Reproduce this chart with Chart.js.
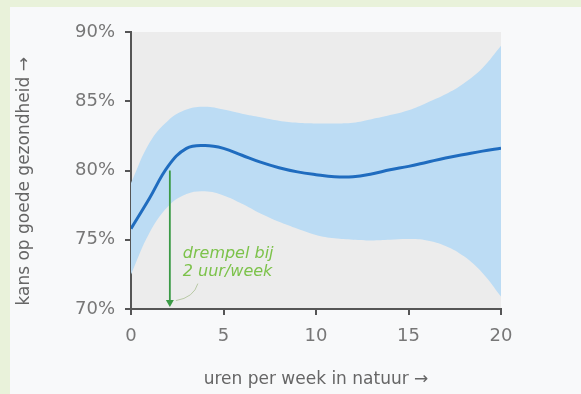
<!DOCTYPE html>
<html>
<head>
<meta charset="utf-8">
<script src="https://cdn.jsdelivr.net/npm/chart.js@4"></script>
<style>
  html, body { margin: 0; padding: 0; }
  body { width: 581px; height: 394px; background: #e9f2da; position: relative; overflow: hidden; }
  #panel { position: absolute; left: 10px; top: 7px; width: 571px; height: 387px; background: #f8f9fa; }
  #myChart { position: absolute; left: 0; top: 0; }
</style>
</head>
<body>
<div id="panel"><canvas id="myChart" width="571" height="387"></canvas></div>
<script>
// hours per week in nature
const hours = [0, 1, 2, 3, 4, 5, 6, 7, 8, 9, 10, 11, 12, 13, 14, 15, 16, 17, 18, 19, 20];
// chance of good health (%)
const estimate = [75.8, 78.0, 80.3, 81.6, 81.8, 81.6, 81.1, 80.6, 80.2, 79.9, 79.7, 79.55, 79.55, 79.75, 80.05, 80.3, 80.6, 80.9, 81.15, 81.4, 81.6];
const upper = [79.1, 82.0, 83.6, 84.4, 84.6, 84.4, 84.1, 83.85, 83.6, 83.45, 83.4, 83.4, 83.45, 83.7, 84.0, 84.35, 84.9, 85.5, 86.3, 87.4, 89.0];
const lower = [72.5, 75.5, 77.4, 78.3, 78.5, 78.2, 77.6, 76.9, 76.3, 75.8, 75.35, 75.1, 75.0, 74.95, 75.0, 75.05, 74.95, 74.55, 73.8, 72.6, 70.9];
const xTicks = [0, 5, 10, 15, 20];
const yTicks = [70, 75, 80, 85, 90];
// threshold arrow
const thresholdHours = 2.1;
const thresholdFrom = 80;
const thresholdTo = 70;
const thresholdText = ['drempel bij', '2 uur/week'];

const pts = (ys) => hours.map((h, i) => ({x: h, y: ys[i]}));

const plotBg = {
    id: 'plotBg',
    beforeDraw(chart) {
        const {ctx, chartArea: a} = chart;
        ctx.save();
        ctx.fillStyle = '#ececec';
        ctx.fillRect(a.left, a.top, a.right - a.left, a.bottom - a.top);
        ctx.restore();
    }
};

const threshold = {
    id: 'threshold',
    afterDatasetsDraw(chart) {
        const {ctx, scales: {x, y}} = chart;
        const px = x.getPixelForValue(thresholdHours);
        const top = y.getPixelForValue(thresholdFrom);
        const bot = y.getPixelForValue(thresholdTo) - 2;
        ctx.save();
        ctx.strokeStyle = '#3a9a45';
        ctx.fillStyle = '#3a9a45';
        ctx.lineWidth = 1.8;
        ctx.beginPath();
        ctx.moveTo(px, top);
        ctx.lineTo(px, bot - 5);
        ctx.stroke();
        ctx.beginPath();
        ctx.moveTo(px - 4, bot - 7);
        ctx.lineTo(px + 4, bot - 7);
        ctx.lineTo(px, bot);
        ctx.closePath();
        ctx.fill();
        // label
        const tx = x.getPixelForValue(thresholdHours + 0.7);
        const ty = y.getPixelForValue(74.0);
        ctx.fillStyle = '#7cc24a';
        ctx.font = 'italic 16px "DejaVu Sans"';
        ctx.textBaseline = 'middle';
        ctx.fillText(thresholdText[0], tx, ty);
        ctx.fillText(thresholdText[1], tx, ty + 18);
        // little pointer
        ctx.strokeStyle = '#b9c9a6';
        ctx.lineWidth = 1;
        ctx.beginPath();
        ctx.moveTo(px + 28, ty + 30);
        ctx.quadraticCurveTo(px + 24, ty + 44, px + 6, ty + 47);
        ctx.stroke();
        ctx.restore();
    }
};

const ctxEl = document.getElementById('myChart').getContext('2d');
new Chart(ctxEl, {
    type: 'line',
    data: {
        datasets: [
            {
                data: pts(estimate),
                order: 0,
                borderColor: '#1f6cbf',
                borderWidth: 3,
                pointRadius: 0,
                fill: false,
                tension: 0.4
            },
            {
                data: pts(upper),
                order: 2,
                borderWidth: 0,
                pointRadius: 0,
                backgroundColor: '#bcdcf4',
                fill: '+1',
                tension: 0.4
            },
            {
                data: pts(lower),
                order: 1,
                borderWidth: 0,
                pointRadius: 0,
                fill: false,
                tension: 0.4
            }
        ]
    },
    options: {
        responsive: false,
        animation: false,
        layout: {padding: {left: 0, right: 80, top: 25, bottom: 0}},
        plugins: {legend: {display: false}, tooltip: {enabled: false}},
        scales: {
            x: {
                type: 'linear',
                min: 0,
                max: 20,
                afterFit: (s) => { s.height = 85; },
                afterBuildTicks: (s) => { s.ticks = xTicks.map(v => ({value: v})); },
                border: {color: '#555', width: 2},
                grid: {drawOnChartArea: false, drawTicks: true, tickLength: 6, color: '#555', lineWidth: 2},
                ticks: {color: '#777', font: {family: 'DejaVu Sans', size: 18}, padding: 11},
                title: {display: true, text: 'uren per week in natuur \u2192', color: '#666', font: {family: 'DejaVu Sans', size: 17}, padding: {top: 9}}
            },
            y: {
                min: 70,
                max: 90,
                afterFit: (s) => { s.width = 121; },
                afterBuildTicks: (s) => { s.ticks = yTicks.map(v => ({value: v})); },
                border: {color: '#555', width: 2},
                grid: {drawOnChartArea: false, drawTicks: true, tickLength: 6, color: '#555', lineWidth: 2},
                ticks: {color: '#777', font: {family: 'DejaVu Sans', size: 18}, padding: 10, callback: (v) => v + '%'},
                title: {display: true, text: 'kans op goede gezondheid \u2192\u00a0\u00a0\u00a0\u00a0', color: '#666', font: {family: 'DejaVu Sans', size: 17}, padding: {bottom: 4}}
            }
        }
    },
    plugins: [plotBg, threshold]
});
</script>
</body>
</html>
